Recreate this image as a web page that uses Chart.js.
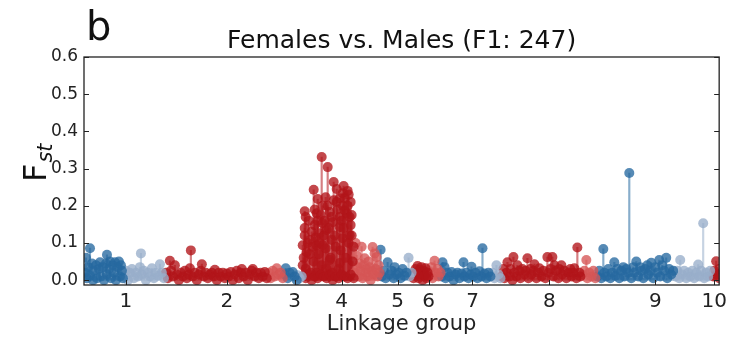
<!DOCTYPE html>
<html>
<head>
<meta charset="utf-8">
<script src="https://cdn.jsdelivr.net/npm/chart.js@4.4.0/dist/chart.umd.min.js"></script>
<style>
  html, body { margin: 0; padding: 0; background: #fff; }
  #wrap { width: 732px; height: 340px; }
</style>
</head>
<body>
<div id="wrap"><canvas id="fstChart" width="732" height="340"></canvas></div>
<script>
// Linkage group tick positions (cumulative position) and labels
const lgCenters = [42, 143, 211, 258, 314, 345, 389, 466, 572, 631];
const lgLabels = ['1', '2', '3', '4', '5', '6', '7', '8', '9', '10'];
const yTicks = [0.0, 0.1, 0.2, 0.3, 0.4, 0.5, 0.6];

// [position, Fst] per scaffold block
const lg1a = [[1,0.02],[2,0.06],[3,0.005],[4,0.035],[6,0.086],[6,0.012],[8,0.045],[9,0.0],[10,0.025],[12,0.04],[13,0.005],[15,0.03],[16,0.048],[17,0.01],[19,0.035],[20,0.0],[22,0.045],[23,0.068],[23,0.015],[25,0.03],[26,0.05],[27,0.005],[29,0.04],[30,0.02],[31,0.048],[32,0.0],[34,0.035],[35,0.05],[36,0.01],[37,0.04],[38,0.025],[39,0.005]];
const lg1b = [[41,0.01],[42,0.025],[44,0.0],[46,0.02],[48,0.03],[50,0.005],[52,0.02],[54,0.01],[56,0.035],[57,0.072],[58,0.015],[60,0.025],[62,0.0],[64,0.02],[66,0.01],[68,0.032],[70,0.005],[72,0.02],[74,0.012],[76,0.043],[78,0.02],[80,0.005]];
const lg2a = [[82,0.02],[84,0.005],[86,0.052],[87,0.025],[89,0.01],[91,0.04],[93,0.015],[95,0.0],[97,0.02],[99,0.01],[101,0.025],[103,0.005],[105,0.015],[106,0.032],[107,0.08],[109,0.01],[111,0.02],[113,0.0],[115,0.015],[117,0.025],[118,0.043],[120,0.01],[122,0.02],[124,0.005],[126,0.015],[128,0.02],[130,0.01],[131,0.028],[133,0.0],[135,0.02],[137,0.01],[139,0.02],[141,0.005],[143,0.018],[145,0.01],[147,0.022],[149,0.0],[151,0.015],[153,0.025],[155,0.005],[157,0.02],[158,0.03],[160,0.01],[162,0.02],[164,0.0],[166,0.015],[168,0.025],[169,0.03],[171,0.01],[173,0.02],[175,0.005],[177,0.02],[179,0.01],[181,0.022],[183,0.005]];
const lg2b = [[185,0.02],[187,0.005],[189,0.025],[191,0.01],[193,0.032],[195,0.015],[197,0.02],[199,0.005]];
const lg3a = [[201,0.015],[202,0.032],[204,0.005],[206,0.02],[209,0.022],[211,0.01],[213,0.0]];
const lg3b = [[214,0.013],[216,0.005],[218,0.01]];
const lg4a = [[219,0.094],[219,0.04],[219,0.01],[220,0.06],[221,0.185],[221,0.14],[221,0.12],[222,0.17],[222,0.03],[222,0.005],[223,0.075],[224,0.1],[225,0.16],[225,0.015],[226,0.108],[226,0.07],[227,0.02],[228,0.13],[228,0.0],[229,0.09],[230,0.243],[230,0.05],[231,0.148],[231,0.19],[231,0.01],[232,0.115],[233,0.18],[233,0.094],[233,0.02],[234,0.218],[234,0.16],[234,0.005],[235,0.07],[236,0.126],[236,0.1],[237,0.175],[237,0.015],[238,0.331],[238,0.04],[239,0.2],[239,0.153],[239,0.094],[240,0.12],[240,0.01],[241,0.16],[242,0.223],[242,0.085],[243,0.135],[243,0.03],[243,0.005],[244,0.304],[244,0.2],[245,0.14],[246,0.183],[246,0.054],[246,0.015],[247,0.06],[248,0.108],[248,0.17],[249,0.156],[249,0.02],[249,0.0],[250,0.264],[250,0.215],[251,0.12],[252,0.09],[252,0.01],[253,0.21],[253,0.245],[254,0.19],[255,0.03],[255,0.005],[256,0.17],[256,0.143],[256,0.046],[256,0.22],[257,0.08],[258,0.16],[258,0.015],[259,0.234],[259,0.113],[259,0.2],[260,0.253],[260,0.14],[261,0.188],[261,0.22],[261,0.01],[262,0.06],[263,0.18],[264,0.2],[264,0.24],[264,0.005],[265,0.23],[265,0.1],[266,0.121],[266,0.17],[267,0.148],[267,0.21],[267,0.015],[268,0.175],[268,0.12],[269,0.05],[270,0.09],[270,0.005]];
const lg4b = [[271,0.02],[272,0.1],[273,0.067],[274,0.035],[275,0.01],[276,0.045],[277,0.025],[278,0.09],[279,0.005],[280,0.04],[281,0.059],[282,0.02],[283,0.03],[284,0.01],[285,0.05],[286,0.035],[287,0.0],[288,0.025],[289,0.089],[290,0.015],[291,0.072],[292,0.03],[293,0.062],[294,0.01],[295,0.04],[296,0.02]];
const lg5a = [[297,0.082],[298,0.01],[300,0.025],[302,0.005],[304,0.048],[306,0.015],[308,0.025],[310,0.005],[311,0.035],[313,0.015],[315,0.02],[317,0.005],[319,0.03],[321,0.012],[323,0.02]];
const lg5b = [[325,0.06],[326,0.01],[328,0.02]];
const lg6a = [[330,0.005],[331,0.015],[332,0.03],[333,0.02],[334,0.038],[335,0.005],[336,0.028],[337,0.015],[338,0.035],[339,0.0],[340,0.025],[341,0.012],[342,0.032],[343,0.005],[344,0.02],[345,0.01]];
const lg6b = [[347,0.02],[348,0.035],[349,0.005],[351,0.052],[352,0.02],[354,0.03],[355,0.01],[357,0.02]];
const lg7a = [[358,0.01],[359,0.048],[361,0.035],[362,0.005],[364,0.02],[366,0.01],[368,0.022],[370,0.0],[372,0.015],[374,0.02],[376,0.005],[378,0.018],[380,0.048],[381,0.01],[383,0.02],[385,0.005],[387,0.015],[388,0.036],[390,0.01],[392,0.02],[394,0.005],[396,0.024],[398,0.01],[399,0.086],[401,0.018],[403,0.005],[405,0.02],[407,0.01]];
const lg7b = [[409,0.02],[411,0.005],[413,0.04],[415,0.015],[417,0.005]];
const lg8a = [[418,0.01],[420,0.03],[421,0.005],[423,0.02],[424,0.048],[426,0.01],[427,0.03],[429,0.0],[430,0.062],[431,0.02],[433,0.01],[434,0.04],[436,0.025],[437,0.005],[439,0.03],[441,0.015],[442,0.025],[444,0.059],[445,0.005],[447,0.03],[448,0.015],[450,0.025],[451,0.043],[453,0.005],[455,0.02],[456,0.032],[458,0.01],[460,0.025],[462,0.005],[464,0.062],[465,0.02],[467,0.03],[469,0.062],[470,0.01],[471,0.04],[473,0.025],[475,0.005],[476,0.03],[478,0.04],[479,0.015],[481,0.025],[483,0.005],[485,0.02],[487,0.03],[488,0.01],[490,0.02],[491,0.032],[493,0.005],[494,0.088],[496,0.02],[497,0.01]];
const lg8b = [[499,0.015],[501,0.025],[503,0.054],[504,0.005],[506,0.02],[508,0.01],[510,0.025],[512,0.005]];
const lg9a = [[514,0.01],[516,0.025],[518,0.005],[520,0.084],[521,0.02],[523,0.01],[525,0.03],[527,0.005],[529,0.02],[531,0.048],[532,0.012],[534,0.03],[536,0.005],[538,0.025],[540,0.035],[541,0.01],[543,0.03],[545,0.02],[546,0.288],[548,0.005],[550,0.035],[551,0.02],[553,0.05],[555,0.01],[557,0.035],[558,0.025],[560,0.005],[562,0.03],[564,0.04],[565,0.015],[567,0.025],[568,0.047],[570,0.005],[572,0.035],[574,0.02],[576,0.054],[577,0.01],[579,0.04],[581,0.025],[583,0.06],[584,0.005],[586,0.03],[588,0.015],[590,0.025]];
const lg9b = [[592,0.01],[594,0.025],[596,0.005],[597,0.054],[599,0.015],[601,0.025],[603,0.005],[605,0.02],[607,0.01],[609,0.025],[611,0.005],[613,0.02],[615,0.042],[616,0.01],[618,0.025],[620,0.153],[621,0.005],[623,0.02],[625,0.01],[627,0.025]];
const lg10a = [[630,0.01],[631,0.025],[633,0.051],[634,0.015],[636,0.03],[636,0.005]];

// colour of each block: [data, hue, shade]
const blocks = [
  [lg1a, 'blue', 0], [lg1b, 'blue', 1],
  [lg2a, 'red', 0], [lg2b, 'red', 1],
  [lg3a, 'blue', 0], [lg3b, 'blue', 1],
  [lg4a, 'red', 0], [lg4b, 'red', 1],
  [lg5a, 'blue', 0], [lg5b, 'blue', 1],
  [lg6a, 'red', 0], [lg6b, 'red', 1],
  [lg7a, 'blue', 0], [lg7b, 'blue', 1],
  [lg8a, 'red', 0], [lg8b, 'red', 1],
  [lg9a, 'blue', 0], [lg9b, 'blue', 1],
  [lg10a, 'red', 0]
];

const palette = {
  blue: ['38,105,160', '152,174,202'],
  red: ['178,20,26', '214,86,86']
};

const datasets = [];
blocks.forEach(([pts, hue, shade]) => {
  const rgb = palette[hue][shade];
  const xy = pts.map(p => ({ x: p[0], y: p[1] }));
  // stems
  datasets.push({
    type: 'bar',
    data: xy,
    backgroundColor: 'rgba(' + rgb + ',0.55)',
    barThickness: 1.5,
    grouped: false,
    order: 2
  });
  // markers
  datasets.push({
    type: 'scatter',
    data: xy,
    backgroundColor: 'rgba(' + rgb + ',0.78)',
    borderWidth: 0,
    pointRadius: 5,
    order: 1
  });
});

const FONT = 'DejaVu Sans';

// frame, inward ticks, y label and panel letter
const framePlugin = {
  id: 'frame',
  afterDraw(chart) {
    const ctx = chart.ctx;
    const { left, right, top, bottom } = chart.chartArea;
    const xs = chart.scales.x, ys = chart.scales.y;
    ctx.save();
    ctx.strokeStyle = '#222';
    ctx.lineWidth = 1.3;
    ctx.strokeRect(left, top, right - left, bottom - top);
    ctx.lineWidth = 1;
    ctx.beginPath();
    yTicks.forEach(v => {
      const py = Math.round(ys.getPixelForValue(v)) + 0.5;
      ctx.moveTo(left, py); ctx.lineTo(left + 5, py);
      ctx.moveTo(right, py); ctx.lineTo(right - 5, py);
    });
    lgCenters.forEach(v => {
      const px = Math.round(xs.getPixelForValue(v)) + 0.5;
      ctx.moveTo(px, bottom); ctx.lineTo(px, bottom - 5);
    });
    ctx.stroke();

    ctx.fillStyle = '#111';
    ctx.textBaseline = 'alphabetic';
    ctx.textAlign = 'left';
    ctx.font = '40px ' + FONT;
    ctx.fillText('b', 86, 40);

    ctx.translate(46, 182);
    ctx.rotate(-Math.PI / 2);
    ctx.font = '32px ' + FONT;
    ctx.fillText('F', 0, 0);
    const w = ctx.measureText('F').width;
    ctx.font = 'italic 21px ' + FONT;
    ctx.fillText('st', w + 1, 6);
    ctx.restore();
  }
};

new Chart(document.getElementById('fstChart'), {
  type: 'scatter',
  data: { datasets: datasets },
  plugins: [framePlugin],
  options: {
    responsive: false,
    animation: false,
    layout: { padding: { left: 0, right: 12, top: 0, bottom: 0 } },
    plugins: {
      legend: { display: false },
      tooltip: { enabled: false },
      title: {
        display: true,
        text: 'Females vs. Males (F1: 247)',
        fullSize: false,
        color: '#111',
        font: { family: FONT, size: 25, weight: 'normal' },
        padding: { top: 26, bottom: 1 }
      }
    },
    scales: {
      x: {
        type: 'linear',
        min: 0,
        max: 636,
        offset: false,
        grid: { display: false, drawTicks: false },
        border: { display: false },
        afterFit: s => { s.height = 55; },
        afterBuildTicks: s => { s.ticks = lgCenters.map(v => ({ value: v })); },
        ticks: {
          autoSkip: false,
          maxRotation: 0,
          padding: 5,
          color: '#222',
          font: { family: FONT, size: 20 },
          callback: (v, i) => lgLabels[i]
        },
        title: {
          display: true,
          text: 'Linkage group',
          color: '#222',
          font: { family: FONT, size: 21 },
          padding: { top: 0, bottom: 3 }
        }
      },
      y: {
        min: -0.013,
        max: 0.6,
        grid: { display: false, drawTicks: false },
        border: { display: false },
        afterFit: s => { s.width = 84; },
        afterBuildTicks: s => { s.ticks = yTicks.map(v => ({ value: v })); },
        ticks: {
          padding: 6,
          color: '#222',
          font: { family: FONT, size: 17 },
          callback: v => v.toFixed(1)
        }
      }
    }
  }
});
</script>
</body>
</html>
